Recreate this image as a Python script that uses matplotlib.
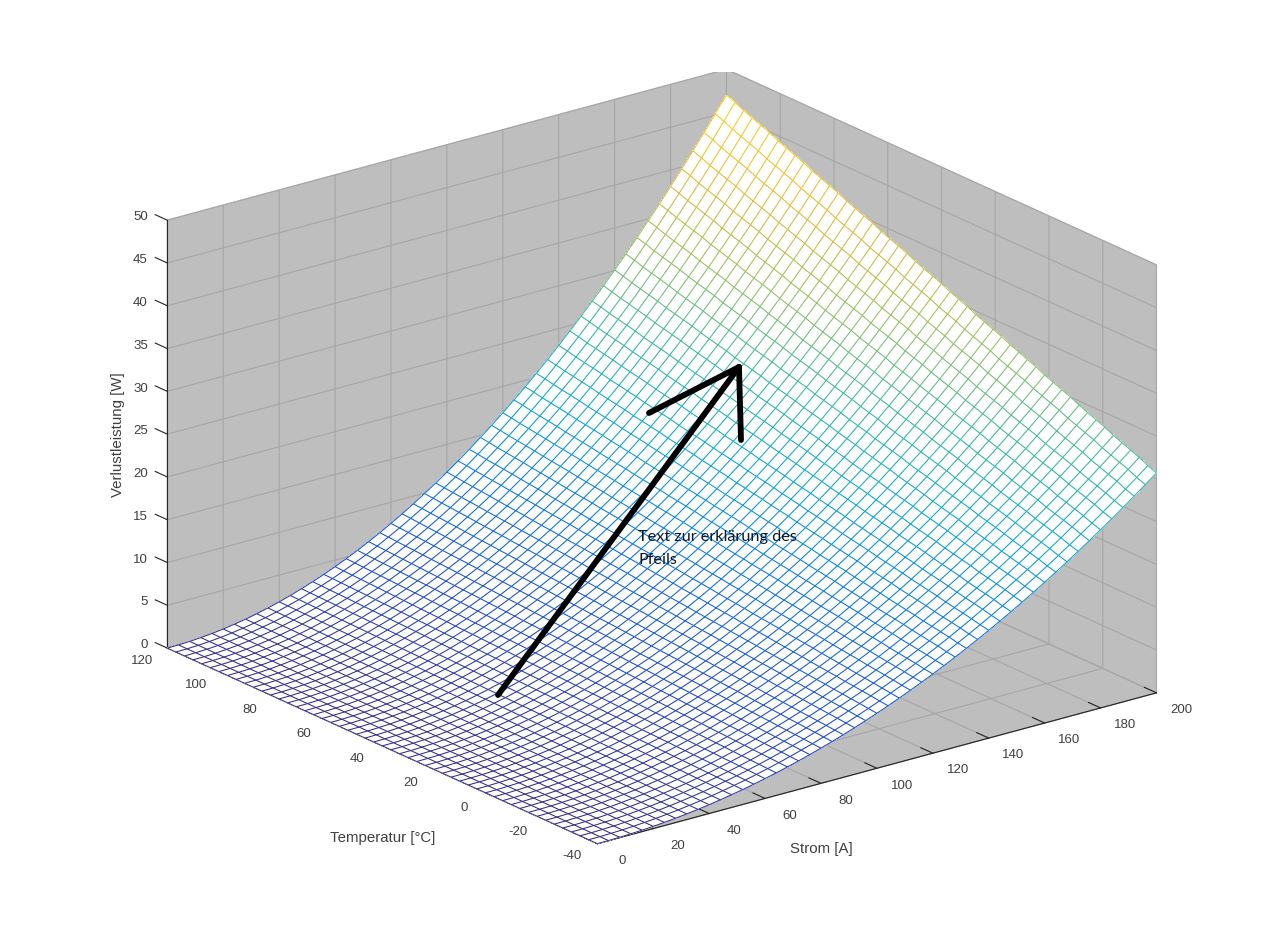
#! /usr/bin/python
# -*- coding: utf-8 -*-
import matplotlib
matplotlib.use("Agg")
import numpy as np
import matplotlib.pyplot as plt
from matplotlib.colors import LinearSegmentedColormap, Normalize
from matplotlib.lines import Line2D
from matplotlib.patches import Rectangle
from mpl_toolkits.mplot3d.art3d import Line3DCollection

plt.rcParams['font.family'] = ['Liberation Sans', 'DejaVu Sans']
plt.rcParams['axes.unicode_minus'] = False

# grid lines of the mesh
strom = [0, 4, 8, 12, 16, 20, 24, 28, 32, 36, 40, 44, 48, 52, 56, 60, 64, 68, 72,
         76, 80, 84, 88, 92, 96, 100, 104, 108, 112, 116, 120, 124, 128, 132,
         136, 140, 144, 148, 152, 156, 160, 164, 168, 172, 176, 180, 184, 188,
         192, 196, 200]
temperatur = [-40, -36.8, -33.6, -30.4, -27.2, -24, -20.8, -17.6, -14.4, -11.2,
              -8, -4.8, -1.6, 1.6, 4.8, 8, 11.2, 14.4, 17.6, 20.8, 24, 27.2,
              30.4, 33.6, 36.8, 40, 43.2, 46.4, 49.6, 52.8, 56, 59.2, 62.4,
              65.6, 68.8, 72, 75.2, 78.4, 81.6, 84.8, 88, 91.2, 94.4, 97.6,
              100.8, 104, 107.2, 110.4, 113.6, 116.8, 120]
# edge of the surface at T = 120 (along the current)
p_rand_strom = [0, 0.02, 0.08, 0.17, 0.30, 0.47, 0.68, 0.92, 1.20, 1.52, 1.88,
                2.27, 2.71, 3.18, 3.68, 4.23, 4.81, 5.43, 6.09, 6.79, 7.52,
                8.29, 9.10, 9.95, 10.83, 11.75, 12.71, 13.71, 14.74, 15.81,
                16.92, 18.07, 19.25, 20.47, 21.73, 23.03, 24.36, 25.74, 27.15,
                28.59, 30.08, 31.60, 33.16, 34.76, 36.40, 38.07, 39.78, 41.53,
                43.32, 45.14, 47.0]
# edge of the surface at I = 200 (along the temperature)
p_rand_temp = [25.7, 26.1, 26.6, 27.0, 27.4, 27.8, 28.3, 28.7, 29.1, 29.5, 30.0,
               30.4, 30.8, 31.2, 31.7, 32.1, 32.5, 32.9, 33.4, 33.8, 34.2, 34.6,
               35.1, 35.5, 35.9, 36.4, 36.8, 37.2, 37.6, 38.1, 38.5, 38.9, 39.3,
               39.8, 40.2, 40.6, 41.0, 41.5, 41.9, 42.3, 42.7, 43.2, 43.6, 44.0,
               44.4, 44.9, 45.3, 45.7, 46.1, 46.6, 47.0]

strom_ticks = list(range(0, 201, 20))
temp_ticks = list(range(-40, 121, 20))
p_ticks = list(range(0, 51, 5))

parula = LinearSegmentedColormap.from_list("parula_ish", [
    (0.00, (0.21, 0.17, 0.53)),
    (0.10, (0.10, 0.28, 0.80)),
    (0.25, (0.02, 0.45, 0.90)),
    (0.40, (0.02, 0.65, 0.82)),
    (0.55, (0.22, 0.72, 0.62)),
    (0.70, (0.60, 0.75, 0.35)),
    (0.85, (0.90, 0.73, 0.20)),
    (1.00, (1.00, 0.82, 0.05))])


def px(x, y):
    '''Figure fraction from picture pixels.'''
    return x / 1280., 1 - y / 948.


def mesh_lines(x, y, z):
    segs = []
    cols = []
    for i in range(x.shape[0]):
        for j in range(x.shape[1]):
            if j + 1 < x.shape[1]:
                segs.append([(x[i, j], y[i, j], z[i, j]),
                             (x[i, j+1], y[i, j+1], z[i, j+1])])
                cols.append(0.5 * (z[i, j] + z[i, j+1]))
            if i + 1 < x.shape[0]:
                segs.append([(x[i, j], y[i, j], z[i, j]),
                             (x[i+1, j], y[i+1, j], z[i+1, j])])
                cols.append(0.5 * (z[i, j] + z[i+1, j]))
    return segs, cols


X, Y = np.meshgrid(strom, temperatur)
Z = np.outer(p_rand_temp, p_rand_strom) / p_rand_strom[-1]

fig = plt.figure(figsize=(12.8, 9.48), dpi=100)
ax = fig.add_axes([115 / 1280., -55.4 / 948., 1065 / 1280., 1065 / 948.],
                  projection='3d', proj_type='ortho', computed_zorder=False)
ax.patch.set_alpha(0)
ax.view_init(elev=20.5, azim=-127.6)
ax.set_box_aspect((706, 705, 457))

ax.set_xlim(0, 200, view_margin=0)
ax.set_ylim(-40, 120, view_margin=0)
ax.set_zlim(0, 50, view_margin=0)
ax.set_xticks(strom_ticks)
ax.set_yticks(temp_ticks)
ax.set_zticks(p_ticks)

for axis in (ax.xaxis, ax.yaxis, ax.zaxis):
    axis.set_pane_color('#bebebe')
    axis.pane.set_edgecolor('#bebebe')
    axis.line.set_color('#262626')
    axis.line.set_linewidth(0.8)
    axis._axinfo['grid'].update(color='#a6a6a6', linewidth=0.8)
    axis._axinfo['tick'].update(inward_factor=0.0, outward_factor=0.35,
                                linewidth={True: 0.8, False: 0.5},
                                color='#262626')
ax.tick_params(axis='both', labelsize=9.5, labelcolor='#404040', colors='#262626')
ax.tick_params(axis='x', pad=15)
ax.tick_params(axis='y', pad=10)
ax.tick_params(axis='z', pad=10)
# Matlab style: labels pushed along one direction only, z ticks along temperature
ax.xaxis._axmask = lambda: [False, True, False]
ax.yaxis._axmask = lambda: [True, False, False]
ax.zaxis._axmask = lambda: [False, True, False]
ax.zaxis._get_tickdir = lambda pos: 1
plt.setp(ax.get_xticklabels(), va='top')
plt.setp(ax.get_yticklabels(), va='top')
plt.setp(ax.get_zticklabels(), ha='right')

ax.plot_surface(X, Y, Z, rstride=1, cstride=1, color='white', shade=False,
                linewidth=0, antialiased=False, zorder=1)
segs, cols = mesh_lines(X, Y, Z)
lines = Line3DCollection(segs, cmap=parula, norm=Normalize(0, 47),
                         linewidths=0.75, zorder=2)
lines.set_array(np.array(cols))
ax.add_collection3d(lines)

# the original cuts the tip of the box off
fig.add_artist(Rectangle(px(0, 71.5), 1, 71.5 / 948., transform=fig.transFigure,
                         facecolor='white', edgecolor='none'))

# labels placed by hand like in the original figure
fig.text(*px(118, 435), 'Verlustleistung [W]', rotation=90, ha='center',
         va='center', fontsize=10.8, color='#404040')
fig.text(*px(383, 838), 'Temperatur [°C]', ha='center', va='center',
         fontsize=10.8, color='#404040')
fig.text(*px(821, 849), 'Strom [A]', ha='center', va='center',
         fontsize=10.8, color='#404040')

# arrow pasted over the figure
for a, b in [((498, 695), (739, 367)), ((649, 413), (739, 367)),
             ((741, 440), (739, 367))]:
    fig.add_artist(Line2D(*zip(px(*a), px(*b)), transform=fig.transFigure,
                          color='black', lw=4.2, solid_capstyle='round'))
fig.text(*px(638, 537), 'Text zur erklärung des', fontsize=11.7, family='Lato',
         color='#101828', va='center')
fig.text(*px(638, 560), 'Pfeils', fontsize=11.7, family='Lato', color='#101828',
         va='center')

fig.savefig('out.png', dpi=100)
